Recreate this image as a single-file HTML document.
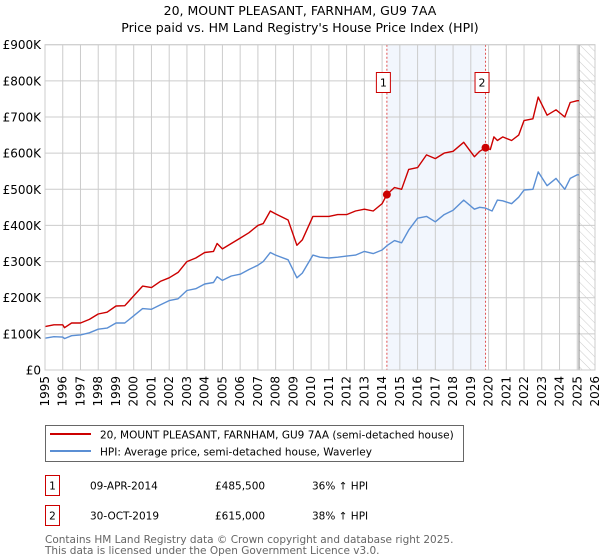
<!DOCTYPE html>
<html><head><meta charset="utf-8"><style>
body{margin:0;background:#fff;font-family:"DejaVu Sans","Liberation Sans",sans-serif;}
svg{display:block}
</style></head><body>
<svg id="chart" width="600" height="560" xmlns="http://www.w3.org/2000/svg" font-family="DejaVu Sans, Liberation Sans, sans-serif">
<text x="300" y="15" text-anchor="middle" font-size="12.5">20, MOUNT PLEASANT, FARNHAM, GU9 7AA</text>
<text x="300" y="32" text-anchor="middle" font-size="12.5">Price paid vs. HM Land Registry's House Price Index (HPI)</text>
<g id="plot"></g>
<rect x="45.5" y="425.5" width="418" height="36" fill="#fff" stroke="#666"/>
<line x1="50" y1="434" x2="91" y2="434" stroke="#cc0000" stroke-width="2"/>
<text x="100" y="438.5" font-size="10.5">20, MOUNT PLEASANT, FARNHAM, GU9 7AA (semi-detached house)</text>
<line x1="50" y1="451" x2="91" y2="451" stroke="#5b8fd4" stroke-width="2"/>
<text x="100" y="455.5" font-size="10.5">HPI: Average price, semi-detached house, Waverley</text>
<rect x="45.5" y="475.5" width="14" height="20" fill="#fff" stroke="#cc0000"/>
<text x="52.5" y="489.5" text-anchor="middle" font-size="10.5">1</text>
<text x="90" y="489.5" font-size="10.5">09-APR-2014</text>
<text x="215" y="489.5" font-size="10.5">£485,500</text>
<text x="312" y="489.5" font-size="10.5">36% ↑ HPI</text>
<rect x="45.5" y="505.5" width="14" height="20" fill="#fff" stroke="#cc0000"/>
<text x="52.5" y="519.5" text-anchor="middle" font-size="10.5">2</text>
<text x="90" y="519.5" font-size="10.5">30-OCT-2019</text>
<text x="215" y="519.5" font-size="10.5">£615,000</text>
<text x="312" y="519.5" font-size="10.5">38% ↑ HPI</text>
<text x="45" y="543" font-size="10.5" fill="#666">Contains HM Land Registry data © Crown copyright and database right 2025.</text>
<text x="45" y="554" font-size="10.5" fill="#666">This data is licensed under the Open Government Licence v3.0.</text>
</svg>
<script>
const yTicks=[0,100000,200000,300000,400000,500000,600000,700000,800000,900000];
const yTickLabels=["£0","£100K","£200K","£300K","£400K","£500K","£600K","£700K","£800K","£900K"];
const xYears=[1995,1996,1997,1998,1999,2000,2001,2002,2003,2004,2005,2006,2007,2008,2009,2010,2011,2012,2013,2014,2015,2016,2017,2018,2019,2020,2021,2022,2023,2024,2025,2026];
const hpiT=[1995,1995.5,1996,1996.1,1996.5,1997,1997.5,1998,1998.5,1999,1999.5,2000,2000.5,2001,2001.5,2002,2002.5,2003,2003.5,2004,2004.5,2004.7,2005,2005.5,2006,2006.5,2007,2007.3,2007.7,2008,2008.7,2009.2,2009.5,2010.1,2010.5,2011,2011.5,2012,2012.5,2013,2013.5,2014,2014.3,2014.7,2015.1,2015.5,2016,2016.5,2017,2017.5,2018,2018.6,2019.2,2019.5,2019.83,2020.2,2020.5,2020.8,2021.3,2021.7,2022,2022.5,2022.8,2023.3,2023.8,2024.3,2024.6,2025,2025.1];
const hpiV=[88000,92000,91000,87000,95000,97000,103000,113000,116000,130000,130000,150000,170000,168000,180000,192000,197000,220000,225000,238000,242000,258000,248000,260000,265000,278000,290000,300000,325000,318000,305000,255000,268000,318000,312000,310000,312000,315000,318000,328000,322000,332000,345000,358000,352000,387000,420000,425000,410000,430000,442000,470000,445000,450000,448000,440000,470000,468000,460000,478000,498000,500000,548000,510000,530000,500000,530000,540000,540000];
const priceT=[1995,1995.5,1996,1996.1,1996.5,1997,1997.5,1998,1998.5,1999,1999.5,2000,2000.5,2001,2001.5,2002,2002.5,2003,2003.5,2004,2004.5,2004.7,2005,2005.5,2006,2006.5,2007,2007.3,2007.7,2008,2008.7,2009.2,2009.5,2010.1,2010.5,2011,2011.5,2012,2012.5,2013,2013.5,2014,2014.27,2014.7,2015.1,2015.5,2016,2016.5,2017,2017.5,2018,2018.6,2019.2,2019.5,2019.83,2020.1,2020.3,2020.5,2020.8,2021.3,2021.7,2022,2022.5,2022.8,2023.3,2023.8,2024.3,2024.6,2025,2025.1];
const priceV=[120000,125000,125000,117000,130000,130000,140000,155000,160000,177000,178000,205000,232000,228000,245000,255000,270000,300000,310000,325000,328000,350000,335000,350000,365000,380000,400000,405000,440000,432000,415000,345000,360000,425000,425000,425000,430000,430000,440000,445000,440000,460000,485500,505000,500000,555000,560000,595000,585000,600000,605000,630000,590000,605000,615000,610000,645000,635000,645000,635000,650000,690000,695000,755000,705000,720000,700000,740000,745000,745000];
const salesT=[2014.27,2019.83];
const salesV=[485500,615000];
const saleLabels=["1","2"];
const NS="http://www.w3.org/2000/svg";
const L=45,R=595,T=44.7,B=370;
function xs(t){return L+(t-1995)/31*(R-L);}
function ys(v){return B-v/900000*(B-T);}
const g=document.getElementById('plot');
function el(tag,attrs){const e=document.createElementNS(NS,tag);for(const k in attrs)e.setAttribute(k,attrs[k]);g.appendChild(e);return e;}
let sh=el('rect',{x:xs(salesT[0]),y:T,width:xs(salesT[1])-xs(salesT[0]),height:B-T,fill:'#f2f6fd'});


const defs=document.createElementNS(NS,'defs');defs.innerHTML='<pattern id="hatch" width="6" height="6" patternUnits="userSpaceOnUse" patternTransform="rotate(-45)"><line x1="0" y1="0" x2="0" y2="6" stroke="#ccc" stroke-width="1"/></pattern>';g.appendChild(defs);
let hx=xs(2025.1);
let ha=el('rect',{x:hx,y:T,width:R-hx,height:B-T,fill:'url(#hatch)'});


xYears.forEach((yr)=>{let l=el('line',{x1:xs(yr),x2:xs(yr),y1:T,y2:B,stroke:'#ccc','stroke-width':1});


let t=el('text',{x:0,y:0,'font-size':12,'text-anchor':'end',transform:`translate(${xs(yr)+4},${B+6}) rotate(-90)`});t.textContent=yr;

});
yTicks.forEach((v,i)=>{let l=el('line',{x1:L,x2:R,y1:ys(v),y2:ys(v),stroke:'#ccc','stroke-width':1});


let t=el('text',{x:L-4,y:ys(v)+4.5,'font-size':12,'text-anchor':'end'});t.textContent=yTickLabels[i];

});
let vl=el('line',{x1:hx,x2:hx,y1:T,y2:B,stroke:'#888','stroke-width':1});


salesT.forEach((t,i)=>{let l=el('line',{x1:xs(t),x2:xs(t),y1:T,y2:B,stroke:'#e05050','stroke-width':1,'stroke-dasharray':'2,2'});


let r=el('rect',{x:xs(t)-10.5,y:72.5,width:14,height:20,fill:'#fff',stroke:'#cc0000'});


let tx=el('text',{x:xs(t)-3.5,y:86.5,'font-size':11,'text-anchor':'middle'});tx.textContent=saleLabels[i];

});
function path(T_,V,col,name){let d=T_.map((t,i)=>(i?'L':'M')+xs(t).toFixed(1)+','+ys(V[i]).toFixed(1)).join('');
let p=el('path',{d:d,fill:'none',stroke:col,'stroke-width':1.4,'stroke-linejoin':'round'});

}
path(hpiT,hpiV,'#5b8fd4','hpi-line');
path(priceT,priceV,'#cc0000','property-price-line');
salesT.forEach((t,i)=>{let c=el('circle',{cx:xs(t),cy:ys(salesV[i]),r:4,fill:'#cc0000'});

});
let fr=el('rect',{x:L,y:T,width:R-L,height:B-T,fill:'none',stroke:'#ccc'});


</script>
</body></html>
